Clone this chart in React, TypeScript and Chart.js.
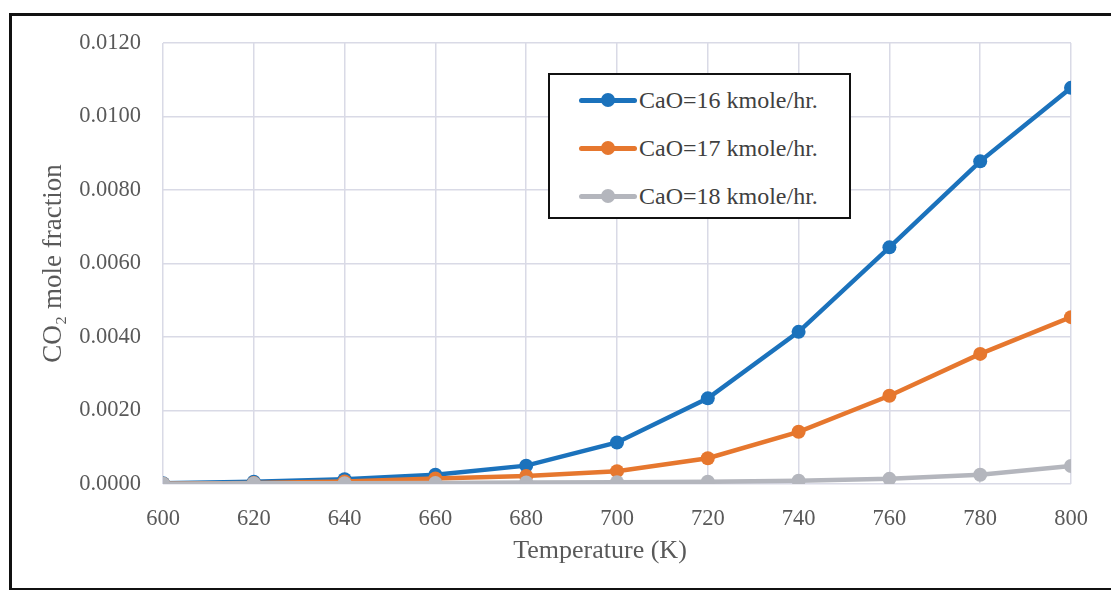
import React, { useEffect, useRef } from "react";
import { Chart, registerables } from "chart.js";

Chart.register(...registerables);

const temperatures = [600, 620, 640, 660, 680, 700, 720, 740, 760, 780, 800];
const cao16 = [0.00002, 0.00006, 0.00013, 0.00025, 0.0005, 0.00113, 0.00233, 0.00414, 0.00644, 0.00878, 0.01078];
const cao17 = [0.00001, 0.00003, 0.00007, 0.00015, 0.00022, 0.00035, 0.0007, 0.00142, 0.0024, 0.00354, 0.00454];
const cao18 = [0.00001, 0.00002, 0.00002, 0.00003, 0.00004, 0.00005, 0.00006, 0.00009, 0.00014, 0.00025, 0.00049];
const seriesLabels = ["CaO=16 kmole/hr.", "CaO=17 kmole/hr.", "CaO=18 kmole/hr."];
const seriesColors = ["#1b72bc", "#e6772e", "#b4b6bd"];
const xTitle = "Temperature (K)";
const yTitle = "CO\u2082 mole fraction";

const FONT = "'Liberation Serif', 'Times New Roman', serif";

const xTitlePlugin = {
  id: "xTitlePlugin",
  afterDraw(chart: any) {
    const { ctx, chartArea } = chart;
    ctx.save();
    ctx.font = `26px ${FONT}`;
    ctx.fillStyle = "#595959";
    ctx.textAlign = "center";
    ctx.textBaseline = "middle";
    ctx.fillText(xTitle, (chartArea.left + chartArea.right) / 2 - 17, chartArea.bottom + 67);
    ctx.restore();
  },
};

export default function App() {
  const canvasRef = useRef<HTMLCanvasElement | null>(null);

  useEffect(() => {
    const ctx = canvasRef.current;
    if (!ctx) return;
    const series = [cao16, cao17, cao18];
    const chart = new Chart(ctx, {
      type: "line",
      data: {
        datasets: series.map((vals, i) => ({
          label: seriesLabels[i],
          data: temperatures.map((t, j) => ({ x: t, y: vals[j] })),
          borderColor: seriesColors[i],
          backgroundColor: seriesColors[i],
          borderWidth: 4.5,
          pointRadius: 7,
          pointHoverRadius: 7,
          pointBorderWidth: 0,
          tension: 0,
          fill: false,
          order: 2 - i,
        })),
      },
      plugins: [xTitlePlugin],
      options: {
        animation: false,
        responsive: false,
        maintainAspectRatio: false,
        layout: { padding: { left: 0, right: 40, top: 43, bottom: 0 } },
        plugins: {
          legend: { display: false },
          tooltip: { enabled: false },
        },
        scales: {
          x: {
            type: "linear",
            min: 600,
            max: 800,
            ticks: {
              stepSize: 20,
              padding: 22,
              color: "#595959",
              font: { family: FONT, size: 22.5 },
            },
            grid: { color: "#d9dae6", lineWidth: 1.5, drawTicks: false },
            border: { display: false },
            title: { display: false },
            afterFit: (scale: any) => {
              scale.height = 106;
            },
          },
          y: {
            min: 0,
            max: 0.012,
            ticks: {
              stepSize: 0.002,
              padding: 22,
              color: "#595959",
              font: { family: FONT, size: 22.5 },
              callback: (v: any) => Number(v).toFixed(4),
            },
            grid: { color: "#d9dae6", lineWidth: 1.5, drawTicks: false },
            border: { display: false },
            title: {
              display: true,
              text: yTitle,
              color: "#595959",
              font: { family: FONT, size: 27 },
              padding: { top: 38, bottom: 0 },
            },
            afterFit: (scale: any) => {
              scale.width = 163;
            },
          },
        },
      },
    });
    return () => chart.destroy();
  }, []);

  return (
    <div
      style={{
        position: "fixed",
        left: 0,
        top: 0,
        width: 1111,
        height: 590,
        overflow: "hidden",
        background: "#ffffff",
      }}
    >
      <canvas ref={canvasRef} width={1111} height={590} style={{ position: "absolute", left: 0, top: 0 }} />
      <div
        style={{
          position: "absolute",
          left: 9,
          top: 13,
          width: 1130,
          height: 572,
          border: "3px solid #111",
          pointerEvents: "none",
        }}
      />
      <div
        style={{
          position: "absolute",
          left: 548,
          top: 73,
          width: 299,
          height: 142,
          border: "2px solid #111",
          background: "#ffffff",
          fontFamily: FONT,
          fontSize: 24,
          color: "#404040",
        }}
      >
        {seriesLabels.map((lab, i) => (
          <div
            key={lab}
            style={{
              position: "absolute",
              left: 0,
              top: 25 + i * 48 - 18,
              height: 36,
              width: 299,
              display: "flex",
              alignItems: "center",
            }}
          >
            <div style={{ position: "relative", width: 58, height: 16, marginLeft: 29 }}>
              <div
                style={{
                  position: "absolute",
                  left: 0,
                  top: 6,
                  width: 58,
                  height: 4.5,
                  borderRadius: 3,
                  background: seriesColors[i],
                }}
              />
              <div
                style={{
                  position: "absolute",
                  left: 22,
                  top: 1,
                  width: 14,
                  height: 14,
                  borderRadius: 7,
                  background: seriesColors[i],
                }}
              />
            </div>
            <span style={{ marginLeft: 2, whiteSpace: "nowrap" }}>{lab}</span>
          </div>
        ))}
      </div>
    </div>
  );
}
